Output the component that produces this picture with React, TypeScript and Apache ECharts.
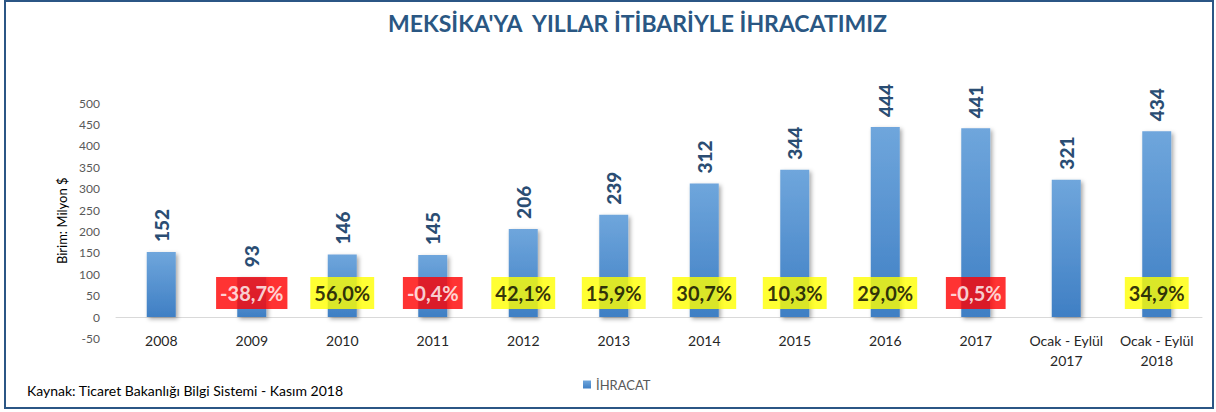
import React, { useEffect, useRef } from "react";
import * as echarts from "echarts";

const categories = [
  "2008", "2009", "2010", "2011", "2012", "2013", "2014", "2015", "2016", "2017",
  "Ocak - Eylül\n2017", "Ocak - Eylül\n2018",
];
const exports = [152, 93, 146, 145, 206, 239, 312, 344, 444, 441, 321, 434];
const changes: (string | null)[] = [
  null, "-38,7%", "56,0%", "-0,4%", "42,1%", "15,9%", "30,7%", "10,3%", "29,0%", "-0,5%", null, "34,9%",
];
const yTicks = { min: -50, max: 500, interval: 50 };

const FONT = "Lato, 'Open Sans', sans-serif";
const BOX_LEVEL = 56;

export default function App() {
  const ref = useRef<HTMLDivElement>(null);
  useEffect(() => {
    if (!ref.current) return;
    const chart = echarts.init(ref.current, null, { renderer: "svg" });
    const boxData = changes.map((c) => {
      if (c === null) return null;
      const neg = c.startsWith("-");
      return {
        value: BOX_LEVEL,
        label: {
          show: true,
          formatter: c,
          position: "inside",
          backgroundColor: neg ? "#FF0000" : "#FFFF00",
          color: neg ? "#FFFFFF" : "#000000",
          fontSize: 20,
          fontWeight: "bold",
          fontFamily: FONT,
          padding: [7, 4, 5, 4],
        },
      };
    });
    chart.setOption({
      animation: false,
      textStyle: { fontFamily: FONT },
      title: {
        text: "MEKSİKA'YA  YILLAR İTİBARİYLE İHRACATIMIZ",
        left: 383,
        top: 6,
        textStyle: { color: "#2A5783", fontSize: 23, fontWeight: "bold", fontFamily: FONT },
      },
      legend: {
        data: ["İHRACAT"],
        left: 578,
        top: 373,
        itemWidth: 8,
        itemHeight: 8,
        icon: "rect",
        itemGap: 4,
        textStyle: { color: "#595959", fontSize: 13, fontFamily: FONT },
      },
      graphic: [
        {
          type: "text",
          left: 27,
          top: 383,
          style: {
            text: "Kaynak: Ticaret Bakanlığı Bilgi Sistemi - Kasım 2018",
            fill: "#000000",
            fontSize: 14,
            fontFamily: FONT,
          },
        },
        {
          type: "rect",
          shape: { x: 5, y: 1, width: 1208, height: 407 },
          style: { fill: "none", stroke: "#2B5685", lineWidth: 2 },
          silent: true,
        },
      ],
      grid: { left: 116, right: 14, top: 103, bottom: 73.5 },
      xAxis: {
        type: "category",
        data: categories,
        axisTick: { show: false },
        axisLine: { show: true, onZero: true, lineStyle: { color: "#D9D9D9", width: 1 } },
        axisLabel: {
          interval: 0,
          color: "#262626",
          fontSize: 14,
          margin: -8,
          lineHeight: 20,
          fontFamily: FONT,
        },
      },
      yAxis: {
        type: "value",
        min: yTicks.min,
        max: yTicks.max,
        interval: yTicks.interval,
        name: "Birim: Milyon $",
        nameLocation: "middle",
        nameGap: 42,
        nameTextStyle: { color: "#000000", fontSize: 13, fontFamily: FONT },
        splitLine: { show: false },
        axisLine: { show: false },
        axisTick: { show: false },
        axisLabel: { color: "#595959", fontSize: 12, margin: 16, fontFamily: FONT },
      },
      series: [
        {
          name: "İHRACAT",
          type: "bar",
          data: exports,
          barWidth: 29,
          itemStyle: {
            color: new echarts.graphic.LinearGradient(0, 0, 0, 1, [
              { offset: 0, color: "#6FA6DC" },
              { offset: 1, color: "#3F7FC4" },
            ]),
            shadowColor: "rgba(0,0,0,0.35)",
            shadowBlur: 4,
            shadowOffsetX: 2,
            shadowOffsetY: 2,
          },
          label: {
            show: true,
            position: "top",
            rotate: 90,
            align: "left",
            verticalAlign: "middle",
            distance: 10,
            color: "#2A4D73",
            fontSize: 19,
            fontWeight: 900,
            fontFamily: FONT,
          },
        },
        {
          name: "change",
          type: "scatter",
          data: boxData,
          symbolSize: 0,
          silent: true,
          z: 5,
        },
      ],
    });
    return () => chart.dispose();
  }, []);
  return (
    <div
      ref={ref}
      style={{ position: "absolute", left: 0, top: 0, width: 1216, height: 412, background: "#fff" }}
    />
  );
}
